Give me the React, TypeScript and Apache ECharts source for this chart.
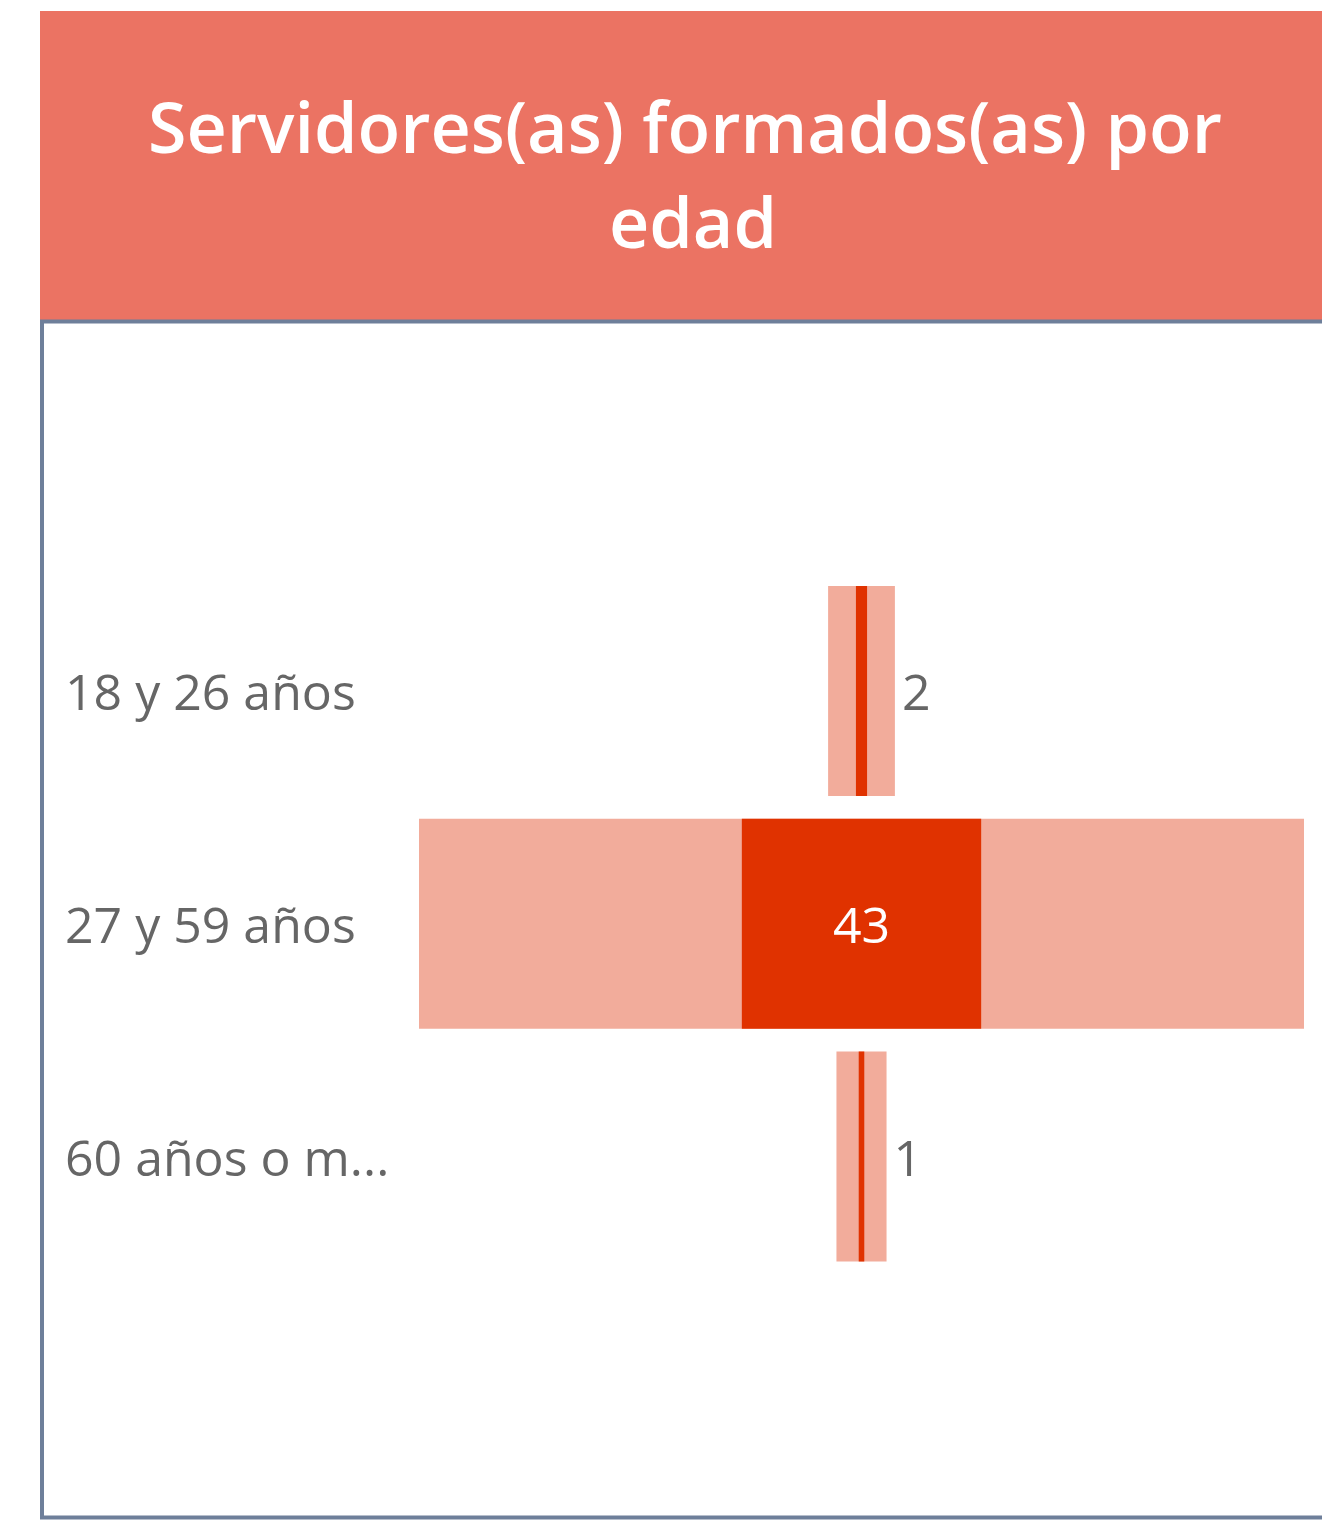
import React, { useEffect, useRef } from 'react';
import * as echarts from 'echarts';

const categories = ['18 y 26 años', '27 y 59 años', '60 años o más'];
const totalValues = [12, 159, 9];
const highlightValues = [2, 43, 1];
const titleLines = ['Servidores(as) formados(as) por', 'edad'];

const FONT = "'Open Sans', 'Segoe UI', sans-serif";
const LIGHT = '#F2AC9B';
const DARK = '#E03200';
const HEADER = '#EB7363';
const BORDER = '#6E7F9A';
const TEXT = '#666666';

export default function App() {
  const ref = useRef<HTMLDivElement>(null);
  useEffect(() => {
    if (!ref.current) return;
    const chart = echarts.init(ref.current, null, { renderer: 'svg' });
    const maxTotal = Math.max(...totalValues);
    const offsetOf = (a: number[]) => a.map((v) => (maxTotal - v) / 2);

    const labelData = categories.map((c, i) => {
      const inside = highlightValues[i] / maxTotal > 0.1;
      return {
        value: [inside ? maxTotal / 2 : (maxTotal + totalValues[i]) / 2, i],
        label: inside
          ? { show: true, position: 'inside', color: '#ffffff', opacity: 1, formatter: String(highlightValues[i]) }
          : { show: true, position: 'right', distance: 7, color: TEXT, opacity: 1, formatter: String(highlightValues[i]) },
      };
    });

    const barCommon = {
      type: 'bar',
      barWidth: 210,
      barGap: '-100%',
      silent: true,
    };

    chart.setOption({
      animation: false,
      grid: { left: 419, right: 18, top: 574.6, bottom: 251, containLabel: false },
      xAxis: {
        type: 'value',
        min: 0,
        max: maxTotal,
        show: false,
      },
      yAxis: {
        type: 'category',
        data: categories,
        inverse: true,
        axisLine: { show: false },
        axisTick: { show: false },
        splitLine: { show: false },
        axisLabel: {
          align: 'left',
          margin: 354,
          color: TEXT,
          fontFamily: FONT,
          fontSize: 50,
          width: 330,
          overflow: 'truncate',
          ellipsis: '...',
        },
      },
      graphic: [
        {
          type: 'rect',
          shape: { x: 40, y: 11, width: 1290, height: 309 },
          style: { fill: HEADER },
          z: 0,
        },
        {
          type: 'rect',
          shape: { x: 42, y: 321.5, width: 1300, height: 1196 },
          style: { fill: 'none', stroke: BORDER, lineWidth: 4 },
          z: 0,
        },
        {
          type: 'text',
          x: 685,
          y: 126,
          style: {
            text: titleLines[0],
            fill: '#ffffff',
            font: `600 70px ${FONT}`,
            align: 'center',
            verticalAlign: 'middle',
          },
          z: 1,
        },
        {
          type: 'text',
          x: 693,
          y: 221,
          style: {
            text: titleLines[1],
            fill: '#ffffff',
            font: `600 70px ${FONT}`,
            align: 'center',
            verticalAlign: 'middle',
          },
          z: 1,
        },
      ],
      series: [
        { ...barCommon, name: 'total-off', stack: 'total', data: offsetOf(totalValues), itemStyle: { color: 'transparent' } },
        { ...barCommon, name: 'total', stack: 'total', data: totalValues, itemStyle: { color: LIGHT } },
        { ...barCommon, name: 'hl-off', stack: 'hl', data: offsetOf(highlightValues), itemStyle: { color: 'transparent' } },
        { ...barCommon, name: 'hl', stack: 'hl', data: highlightValues, itemStyle: { color: DARK } },
        {
          type: 'scatter',
          symbolSize: 0,
          silent: true,
          z: 10,
          itemStyle: { opacity: 1 },
          label: { fontFamily: FONT, fontSize: 50 },
          data: labelData,
        },
      ],
    });
    return () => chart.dispose();
  }, []);
  return (
    <div
      ref={ref}
      style={{ position: 'absolute', left: 0, top: 0, width: 1322, height: 1524 }}
    />
  );
}
